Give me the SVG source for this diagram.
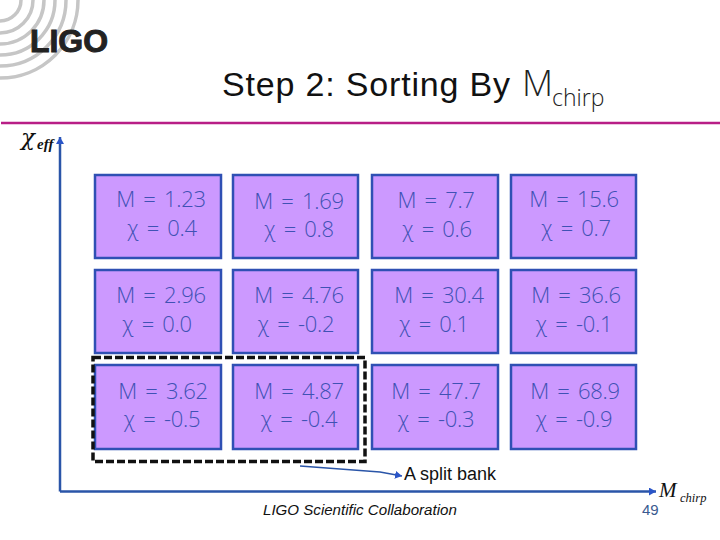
<svg xmlns="http://www.w3.org/2000/svg" width="720" height="540" viewBox="0 0 720 540">
<style>
.box{fill:#cc99ff;stroke:#2f50b4;stroke-width:2.5}
.v{font-family:"Open Sans","Noto Sans",sans-serif;font-weight:300;font-size:22px;word-spacing:3px;letter-spacing:-0.3px;fill:#3f52b4;text-anchor:middle}
.arc{fill:none;stroke:#c6c6c6;stroke-width:3.5}
.ax{fill:none;stroke:#2a55a8;stroke-width:2.5}
.sm{font-family:"Liberation Serif",serif;font-style:italic;fill:#111}
</style>
<defs><marker id="ah" markerUnits="userSpaceOnUse" markerWidth="9" markerHeight="9" refX="7" refY="4" orient="auto"><path d="M0 0L7 4L0 8Z" fill="#2a55c8"/></marker></defs>
<rect width="720" height="540" fill="#fff"/>
<g id="logo">
<circle class="arc" cx="0" cy="0" r="21"/><circle class="arc" cx="0" cy="0" r="33"/><circle class="arc" cx="0" cy="0" r="44"/><circle class="arc" cx="0" cy="0" r="55"/><circle class="arc" cx="0" cy="0" r="66"/><circle class="arc" cx="0" cy="0" r="78"/>
<text x="30" y="52" font-family="Liberation Sans,sans-serif" font-weight="700" font-size="31" fill="#222" stroke="#222" stroke-width="1" textLength="78" lengthAdjust="spacingAndGlyphs">LIGO</text>
</g>
<g id="title"><text x="222" y="96" font-family="Liberation Sans,sans-serif" font-size="34" fill="#111" textLength="288" lengthAdjust="spacing">Step 2: Sorting By</text><text x="522" y="96" font-family="Open Sans,sans-serif" font-weight="300" font-size="36" fill="#222">M</text><text x="552" y="106" font-family="Open Sans,sans-serif" font-weight="300" font-size="23" fill="#222">chirp</text></g>
<path d="M1 123H720" stroke="#b81e86" stroke-width="2.5"/>
<g id="connectors">
<path class="ax" d="M60 491.500V137" marker-end="url(#ah)"/>
<path class="ax" d="M60 491.500H656" marker-end="url(#ah)"/>
<path d="M300 466L380 472L402 476" fill="none" stroke="#2a55a8" stroke-width="1.5" marker-end="url(#ah)"/>
</g>
<g id="n1"><rect class="box" x="95" y="175" width="126" height="83"/><text class="v" x="161" y="207">M = 1.23</text><text class="v" x="162" y="236">χ = 0.4</text></g>
<g id="n2"><rect class="box" x="233" y="175" width="125" height="83"/><text class="v" x="299" y="209">M = 1.69</text><text class="v" x="299" y="237">χ = 0.8</text></g>
<g id="n3"><rect class="box" x="372" y="175" width="126" height="83"/><text class="v" x="436" y="208">M = 7.7</text><text class="v" x="437" y="237">χ = 0.6</text></g>
<g id="n4"><rect class="box" x="511" y="175" width="125" height="83"/><text class="v" x="574" y="207">M = 15.6</text><text class="v" x="576" y="236">χ = 0.7</text></g>
<g id="n5"><rect class="box" x="95" y="270" width="126" height="83"/><text class="v" x="161" y="303">M = 2.96</text><text class="v" x="157" y="332">χ = 0.0</text></g>
<g id="n6"><rect class="box" x="233" y="270" width="125" height="83"/><text class="v" x="299" y="303">M = 4.76</text><text class="v" x="296" y="332">χ = -0.2</text></g>
<g id="n7"><rect class="box" x="372" y="270" width="126" height="83"/><text class="v" x="439" y="303">M = 30.4</text><text class="v" x="434" y="332">χ = 0.1</text></g>
<g id="n8"><rect class="box" x="511" y="270" width="125" height="83"/><text class="v" x="576" y="303">M = 36.6</text><text class="v" x="574" y="332">χ = -0.1</text></g>
<g id="n9"><rect class="box" x="95" y="365" width="126" height="84"/><text class="v" x="163" y="399">M = 3.62</text><text class="v" x="162" y="427">χ = -0.5</text></g>
<g id="n10"><rect class="box" x="233" y="365" width="125" height="84"/><text class="v" x="299" y="399">M = 4.87</text><text class="v" x="299" y="427">χ = -0.4</text></g>
<g id="n11"><rect class="box" x="372" y="365" width="126" height="84"/><text class="v" x="436" y="399">M = 47.7</text><text class="v" x="436" y="427">χ = -0.3</text></g>
<g id="n12"><rect class="box" x="511" y="365" width="125" height="84"/><text class="v" x="575" y="399">M = 68.9</text><text class="v" x="574" y="427">χ = -0.9</text></g>
<g id="bank"><rect x="93" y="357.500" width="272" height="104" fill="none" stroke="#111" stroke-width="3.5" stroke-dasharray="8 3"/></g>
<g id="lab"><text x="404" y="480" font-family="Liberation Sans,sans-serif" font-size="18" fill="#111">A split bank</text>
<text x="263" y="515" font-family="Liberation Sans,sans-serif" font-style="italic" font-size="15.100" fill="#111">LIGO Scientific Collaboration</text>
<text x="642" y="515" font-family="Liberation Sans,sans-serif" font-size="15" fill="#3a5a90">49</text></g>
<g id="axlab"><text x="21" y="145" font-family="DejaVu Serif,serif" font-style="italic" font-size="23" fill="#111">χ</text><text class="sm" x="37" y="149" font-size="15" font-weight="700">eff</text>
<text class="sm" x="659" y="497" font-size="21">M</text><text class="sm" x="680" y="502" font-size="12.500">chirp</text></g>
</svg>
